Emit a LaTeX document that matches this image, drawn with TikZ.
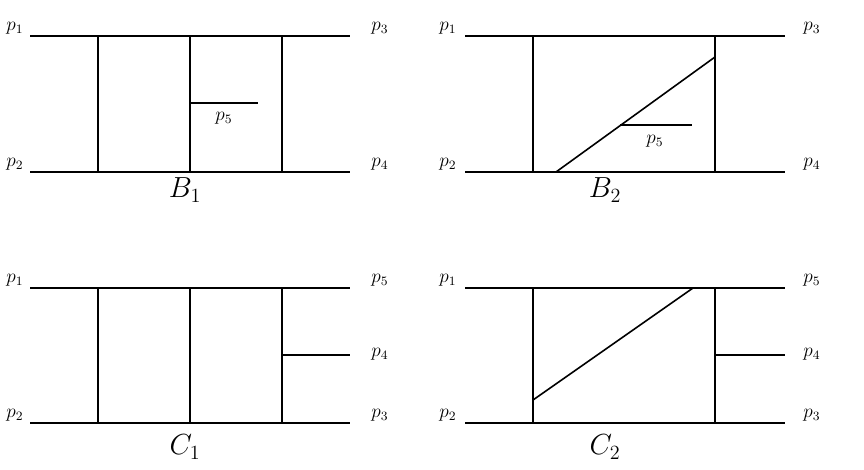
\documentclass[tikz,border=0pt]{standalone}
\begin{document}
\begin{tikzpicture}[x=1pt,y=-1pt,ln/.style={line width=1.6pt},lab/.style={font=\large,scale=1.6},big/.style={font=\huge,scale=1.4}]
\useasboundingbox (0,0) rectangle (864,470);
% B1
\coordinate (a1) at (30,36); \coordinate (a2) at (350,36);
\coordinate (b1) at (30,172); \coordinate (b2) at (350,172);
\draw[ln] (a1)--(a2); \draw[ln] (b1)--(b2);
\foreach \x in {98,190,282} \draw[ln] (\x,36)--(\x,172);
\draw[ln] (190,103)--(258,103);
\node[lab] (q5) at (224,118) {$p_5$};
\node[lab] (q1) at (15,28) {$p_1$};
\node[lab] (q2) at (15,164) {$p_2$};
\node[lab] (q3) at (380,28) {$p_3$};
\node[lab] (q4) at (380,164) {$p_4$};
\node[big] (B1) at (185,190) {$B_1$};
% B2
\draw[ln] (465,36)--(785,36); \draw[ln] (465,172)--(785,172);
\draw[ln] (533,36)--(533,172); \draw[ln] (715,36)--(715,172);
\draw[ln] (556,172)--(715,57);
\draw[ln] (620,125)--(692,125);
\node[lab] (r5) at (655,141) {$p_5$};
\node[lab] (r1) at (448,28) {$p_1$};
\node[lab] (r2) at (448,164) {$p_2$};
\node[lab] (r3) at (812,28) {$p_3$};
\node[lab] (r4) at (812,164) {$p_4$};
\node[big] (B2) at (605,190) {$B_2$};
% C1
\draw[ln] (30,288)--(350,288); \draw[ln] (30,423)--(350,423);
\foreach \x in {98,190,282} \draw[ln] (\x,288)--(\x,423);
\draw[ln] (282,355)--(350,355);
\node[lab] (s1) at (15,280) {$p_1$};
\node[lab] (s2) at (15,415) {$p_2$};
\node[lab] (s5) at (380,280) {$p_5$};
\node[lab] (s4) at (380,354) {$p_4$};
\node[lab] (s3) at (380,415) {$p_3$};
\node[big] (C1) at (185,447) {$C_1$};
% C2
\draw[ln] (465,288)--(785,288); \draw[ln] (465,423)--(785,423);
\draw[ln] (533,288)--(533,423); \draw[ln] (715,288)--(715,423);
\draw[ln] (533,400)--(693,288);
\draw[ln] (715,355)--(785,355);
\node[lab] (t1) at (448,280) {$p_1$};
\node[lab] (t2) at (448,415) {$p_2$};
\node[lab] (t5) at (812,280) {$p_5$};
\node[lab] (t4) at (812,354) {$p_4$};
\node[lab] (t3) at (812,415) {$p_3$};
\node[big] (C2) at (605,447) {$C_2$};
\end{tikzpicture}
\end{document}
